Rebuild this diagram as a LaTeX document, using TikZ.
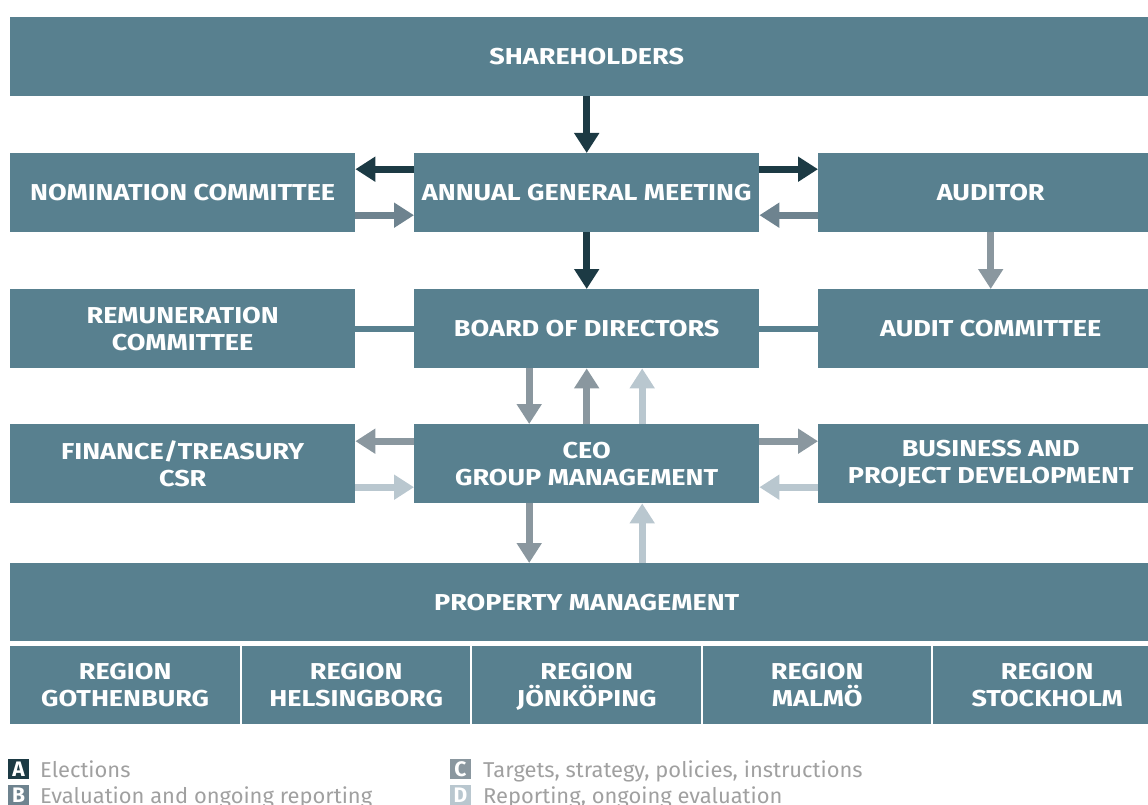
\documentclass[tikz,border=0pt]{standalone}
\usepackage{fontspec}
\setmainfont{Fira Sans}
\newfontfamily\boxfont[FakeStretch=1.175]{Fira Sans}
\newfontfamily\legfont[FakeStretch=1.02]{Fira Sans}
\usetikzlibrary{arrows.meta}
\definecolor{boxc}{HTML}{58808F}
\definecolor{colA}{HTML}{1C3A44}
\definecolor{colB}{HTML}{6E838F}
\definecolor{colC}{HTML}{8A979F}
\definecolor{colD}{HTML}{B9C7CF}
\definecolor{legtext}{HTML}{A0A0A0}
\begin{document}
\begin{tikzpicture}[x=1pt,y=-1pt,
  box/.style={fill=boxc, text=white, font=\boxfont\bfseries\fontsize{23}{27}\selectfont, align=center, inner sep=0pt, anchor=north west, minimum height=79pt},
  arr/.style={line width=7pt, -{Triangle[width=24pt,length=20pt]}},
  link/.style={line width=6pt, boxc},
  legbox/.style={minimum width=21pt, minimum height=20pt, inner sep=0pt, text=white, font=\fontsize{21}{21}\selectfont\bfseries},
  legtxt/.style={anchor=base west, inner sep=0pt, text=legtext, font=\legfont\fontsize{21.5}{21.5}\selectfont}
]
\useasboundingbox (0,0) rectangle (1148,805);
\begin{scope}
\clip (0,0) rectangle (1148,805);
% boxes
\node[box, minimum width=1153pt] (sh) at (10,17) {SHAREHOLDERS};
\node[box, minimum width=345pt] (nom) at (10,153) {NOMINATION COMMITTEE};
\node[box, minimum width=345pt] (agm) at (414,153) {ANNUAL GENERAL MEETING};
\node[box, minimum width=345pt] (aud) at (818,153) {AUDITOR};
\node[box, minimum width=345pt] (rem) at (10,289) {REMUNERATION\\COMMITTEE};
\node[box, minimum width=345pt] (board) at (414,289) {BOARD OF DIRECTORS};
\node[box, minimum width=345pt] (audc) at (818,289) {AUDIT COMMITTEE};
\node[box, minimum width=345pt] (fin) at (10,424) {FINANCE/TREASURY\\CSR};
\node[box, minimum width=345pt] (ceo) at (414,424) {CEO\\GROUP MANAGEMENT};
\node[box, minimum width=345pt] (bus) at (818,424) {BUSINESS AND\\PROJECT DEVELOPMENT};
\node[box, minimum width=1153pt, minimum height=78pt] (pm) at (10,563) {PROPERTY MANAGEMENT};
\node[box, minimum width=230pt, minimum height=78pt] (r1) at (10,646) {REGION\\GOTHENBURG};
\node[box, minimum width=228pt, minimum height=78pt] (r2) at (242,646) {REGION\\HELSINGBORG};
\node[box, minimum width=229pt, minimum height=78pt] (r3) at (472,646) {REGION\\\smash{J}ÖNKÖPING};
\node[box, minimum width=228pt, minimum height=78pt] (r4) at (703,646) {REGION\\MALMÖ};
\node[box, minimum width=228pt, minimum height=78pt] (r5) at (933,646) {REGION\\STOCKHOLM};
\end{scope}
% connectors
\draw[arr, colA] (sh.south -| agm.north) -- (agm.north);
\draw[arr, colA] ([yshift=23.5pt]agm.west) -- ([yshift=23.5pt]nom.east);
\draw[arr, colB] ([yshift=-22.5pt]nom.east) -- ([yshift=-22.5pt]agm.west);
\draw[arr, colA] ([yshift=23.5pt]agm.east) -- ([yshift=23.5pt]aud.west);
\draw[arr, colB] ([yshift=-22.5pt]aud.west) -- ([yshift=-22.5pt]agm.east);
\draw[arr, colA] (agm.south) -- (board.north);
\draw[arr, colC] (aud.south) -- (audc.north);
\draw[link] (rem.east) -- (board.west);
\draw[link] (board.east) -- (audc.west);
\draw[arr, colC] ([xshift=-57.5pt]board.south) -- ([xshift=-57.5pt]ceo.north);
\draw[arr, colC] (ceo.north) -- (board.south);
\draw[arr, colD] ([xshift=55.5pt]ceo.north) -- ([xshift=55.5pt]board.south);
\draw[arr, colC] ([yshift=22.5pt]ceo.west) -- ([yshift=22.5pt]fin.east);
\draw[arr, colD] ([yshift=-23.5pt]fin.east) -- ([yshift=-23.5pt]ceo.west);
\draw[arr, colC] ([yshift=22.5pt]ceo.east) -- ([yshift=22.5pt]bus.west);
\draw[arr, colD] ([yshift=-23.5pt]bus.west) -- ([yshift=-23.5pt]ceo.east);
\draw[arr, colC] ([xshift=-57.5pt]ceo.south) -- ([xshift=-57.5pt]ceo.south |- pm.north);
\draw[arr, colD] ([xshift=55.5pt]ceo.south |- pm.north) -- ([xshift=55.5pt]ceo.south);
% legend
\node[legbox, fill=colA] (la) at (18.5,769) {A};
\node[legbox, fill=colB] (lb) at (18.5,795) {B};
\node[legbox, fill=colC] (lc) at (460.5,769) {C};
\node[legbox, fill=colD] (ld) at (460.5,795) {D};
\node[legtxt] (ta) at (40,777) {Elections};
\node[legtxt] (tb) at (40,803) {Evaluation and ongoing reporting};
\node[legtxt] (tc) at (483,777) {Targets, strategy, policies, instructions};
\node[legtxt] (td) at (483,803) {Reporting, ongoing evaluation};
\end{tikzpicture}
\end{document}
